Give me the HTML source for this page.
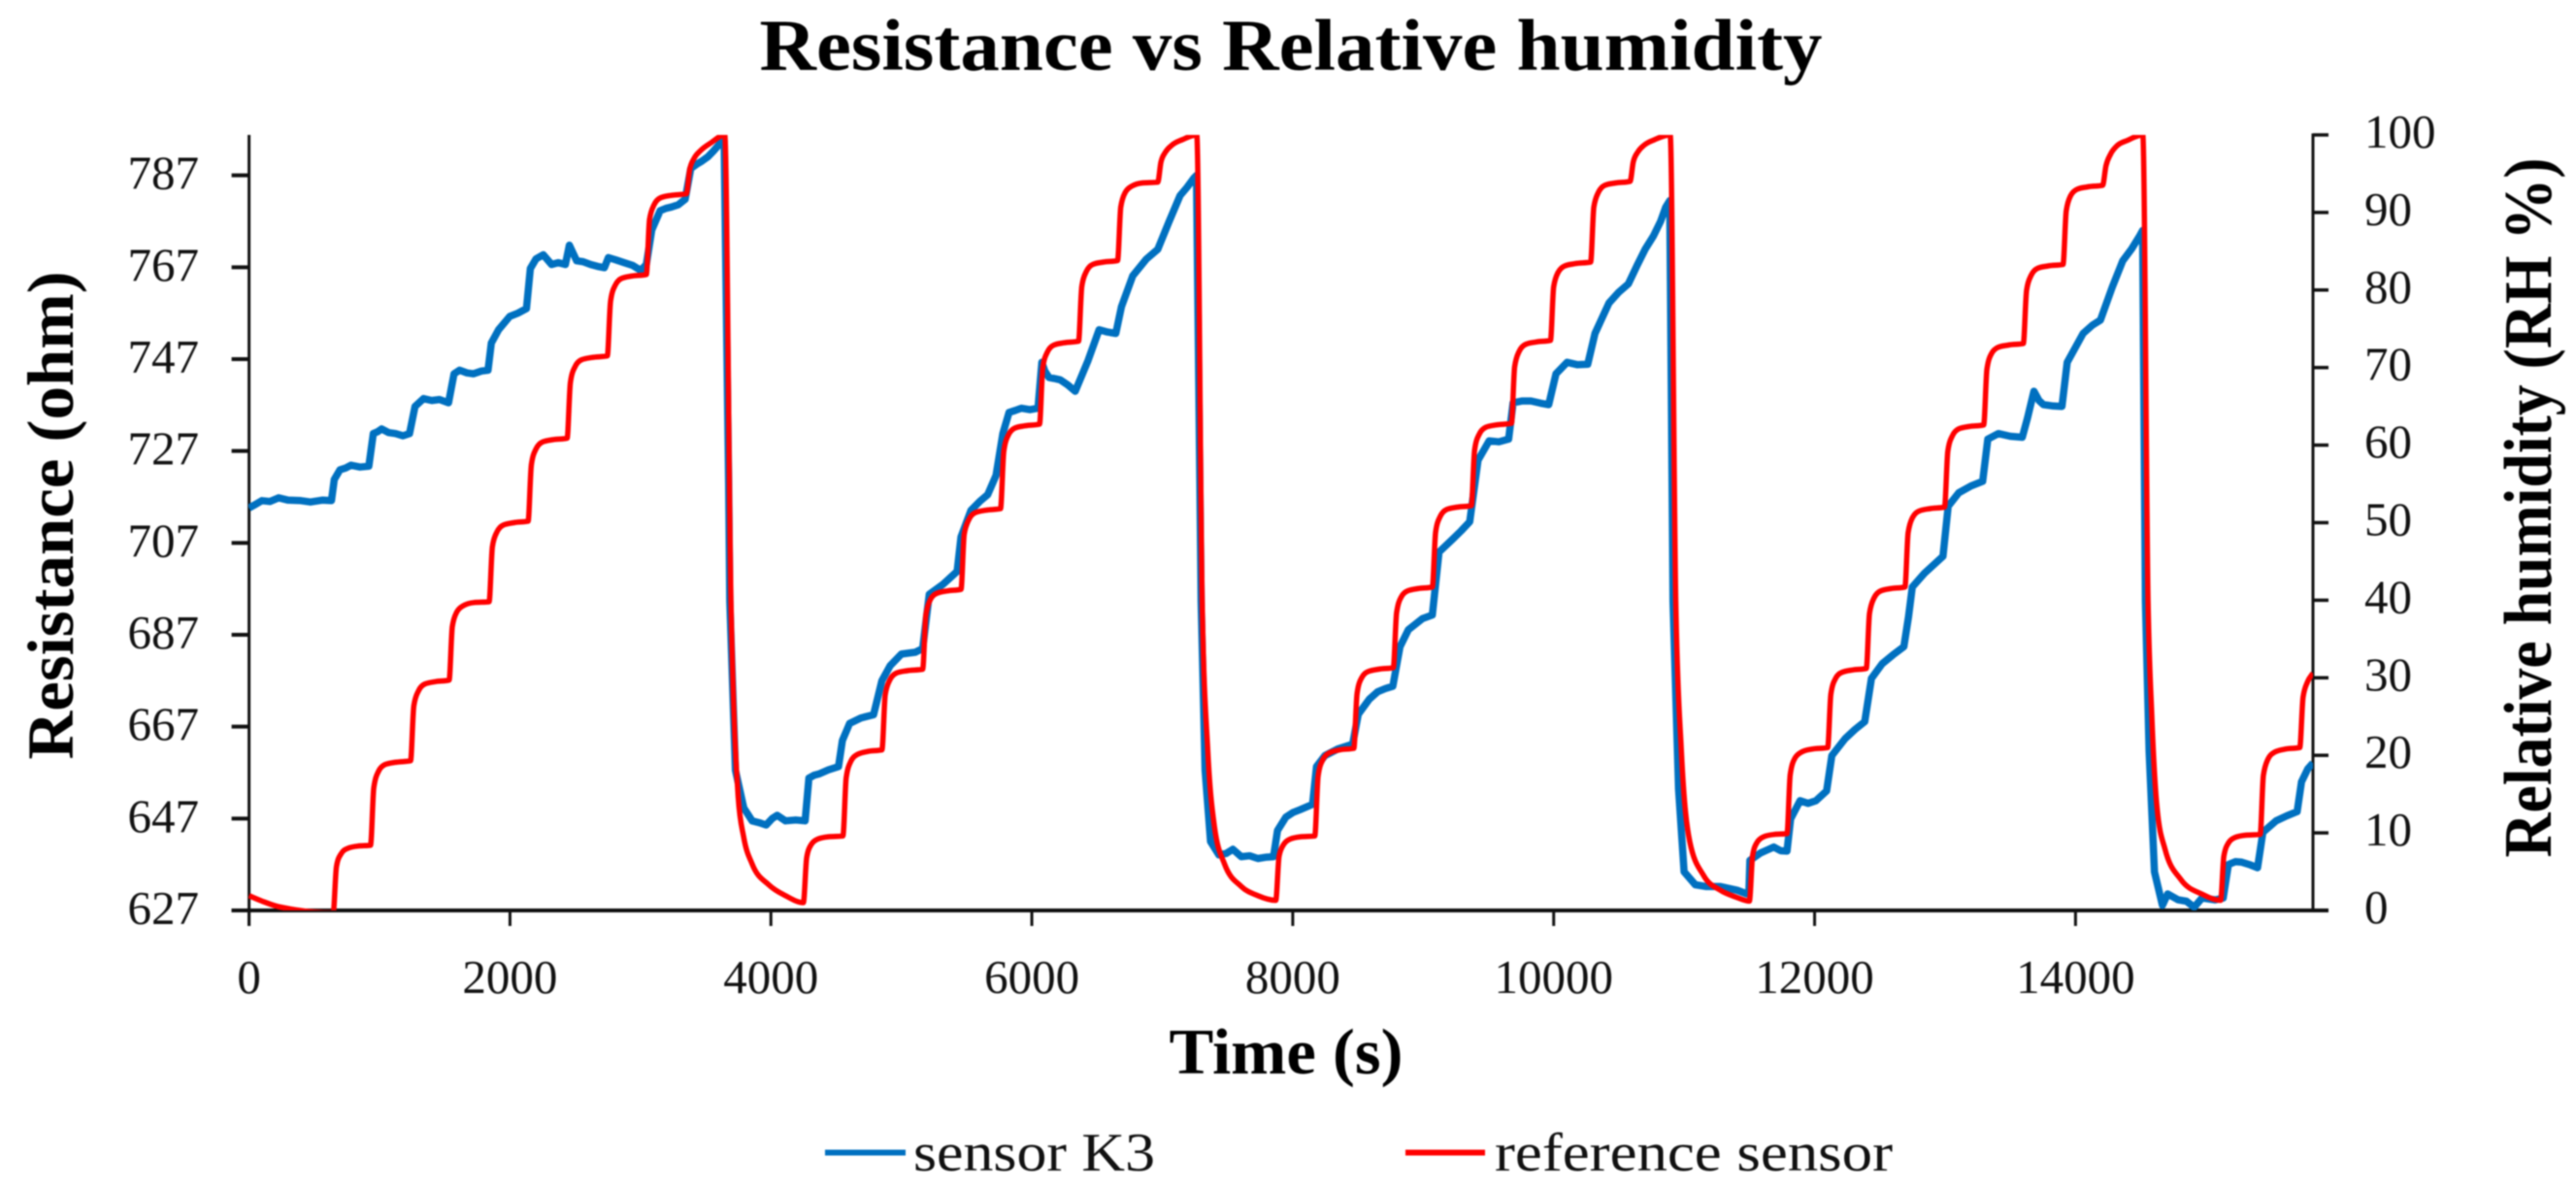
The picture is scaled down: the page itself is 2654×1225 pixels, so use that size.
<!DOCTYPE html>
<html lang="en">
<head>
<meta charset="utf-8">
<title>Resistance vs Relative humidity</title>
<style>
html,body{margin:0;padding:0;background:#fff;width:2654px;height:1225px;overflow:hidden}
svg{display:block;filter:blur(0.7px)}
text{font-family:"Liberation Serif",serif;fill:#111}
</style>
</head>
<body>
<svg id="chart" xmlns="http://www.w3.org/2000/svg" width="2654" height="1225" viewBox="0 0 2654 1225">
  <defs>
    <clipPath id="plot-clip"><rect x="256" y="139" width="2127" height="799"></rect></clipPath>
  </defs>
  <text x="1330" y="72" text-anchor="middle" font-size="75" font-weight="bold" textLength="1095" lengthAdjust="spacingAndGlyphs" style="fill:#000">Resistance vs Relative humidity</text>
  <text transform="translate(75,531) rotate(-90)" text-anchor="middle" font-size="68" font-weight="bold" textLength="503" lengthAdjust="spacingAndGlyphs" style="fill:#000">Resistance (ohm)</text>
  <text transform="translate(2628,523) rotate(-90)" text-anchor="middle" font-size="70" font-weight="bold" textLength="721" lengthAdjust="spacingAndGlyphs" style="fill:#000">Relative humidity (RH %)</text>
  <text x="1325" y="1106" text-anchor="middle" font-size="67" font-weight="bold" textLength="241" lengthAdjust="spacingAndGlyphs" style="fill:#000">Time (s)</text>
  <g id="axes"></g>
  <g id="series" clip-path="url(#plot-clip)"></g>
  <g>
    <g>
      <line x1="850" y1="1187.5" x2="933" y2="1187.5" stroke="#0070C0" stroke-width="6"></line>
      <text x="941" y="1206" font-size="56" textLength="249" lengthAdjust="spacingAndGlyphs">sensor K3</text>
    </g>
    <g>
      <line x1="1448" y1="1187.5" x2="1530" y2="1187.5" stroke="#FF0000" stroke-width="6"></line>
      <text x="1540" y="1206" font-size="56" textLength="410" lengthAdjust="spacingAndGlyphs">reference sensor</text>
    </g>
  </g>
</svg>
<script>
const xTicks = [0, 2000, 4000, 6000, 8000, 10000, 12000, 14000];
const leftTicks = [627, 647, 667, 687, 707, 727, 747, 767, 787];
const rightTicks = [0, 10, 20, 30, 40, 50, 60, 70, 80, 90, 100];

const k3Time = [
0,50,98,160,226,300,397,470,560,632,653,696,740,781,850,918,952,985,1016,1070,1123,1180,1230,1272,1337,1400,1460,1529,1571,1614,1670,1721,1780,1832,1857,1913,1998,2060,2126,2156,2199,2255,2319,2370,2425,2455,2511,2560,2618,2670,2724,2754,2810,2874,2940,3002,3045,3087,3151,3195,3237,3290,3343,3386,3430,3471,3515,3557,3600,3630,3642,3676,3685,3728,3792,3856,3910,3963,4010,4048,4112,4190,4262,4291,4330,4368,4440,4518,4548,4603,4689,4787,4851,4915,5000,5055,5107,5163,5214,5320,5427,5457,5534,5600,5662,5726,5778,5825,5870,5919,5985,6047,6077,6100,6132,6170,6217,6275,6333,6431,6516,6580,6644,6687,6773,6879,6965,7050,7136,7190,7242,7262,7298,7328,7370,7434,7490,7541,7605,7670,7733,7800,7853,7883,7947,8000,8054,8152,8182,8246,8350,8459,8502,8587,8651,8710,8767,8822,8886,8993,9070,9121,9228,9290,9356,9420,9505,9580,9655,9689,9760,9826,9900,9962,10018,10103,10180,10261,10317,10424,10500,10573,10640,10701,10765,10820,10859,10890,10915,10957,11000,11085,11171,11278,11406,11482,11496,11504,11585,11640,11687,11740,11788,11816,11889,11950,12011,12092,12132,12234,12310,12384,12436,12518,12600,12684,12720,12749,12842,12984,13024,13105,13200,13288,13328,13409,13500,13592,13632,13681,13720,13754,13830,13896,13936,14058,14130,14191,14281,14362,14430,14491,14514,14536,14564,14605,14666,14706,14787,14850,14909,14970,15071,15132,15172,15225,15274,15340,15395,15436,15537,15620,15699,15732,15780,15820
];
const k3Ohm = [
714.6,715.4,716.2,716.0,716.8,716.3,716.2,715.9,716.3,716.2,720.8,722.9,723.3,723.9,723.5,723.7,730.8,731.2,731.8,731.0,730.8,730.3,730.8,736.7,738.4,738.0,738.2,737.5,743.8,744.6,744.0,743.8,744.4,744.6,750.5,753.4,756.3,757.0,758,766.7,768.8,769.7,767.6,768.0,767.6,771.8,768.4,768.2,767.6,767.2,766.9,769.1,768.6,768,767.4,766.3,767.6,775.1,779.3,779.8,780.1,780.6,781.8,788.5,789.4,790.1,791.0,792.2,793.6,795.3,794.3,720,694.2,657.5,649.3,646.5,646.1,645.6,647.0,647.7,646.5,646.7,646.5,655.8,656.4,656.7,657.6,658.3,664,667.7,668.9,669.6,677,680.3,682.8,683.0,683.2,684,695.8,698,700.8,708.3,714.1,716,717.5,721.7,730.8,735.4,735.8,736.3,736.0,736.3,746.3,744.4,743,742.8,742.5,741.4,740,746.7,753.4,752.9,752.6,758.4,765.1,768.8,770.9,776.8,782.6,784.4,786.4,787,694.2,657.5,642,639.1,639.4,640.3,638.7,638.9,638.3,638.6,638.7,644.4,647.3,648.3,648.9,650.1,658.3,660.7,662.2,663.2,669.7,673,674.6,675.3,675.8,684.4,688.1,690.5,691.3,705,707.9,709.6,711.6,725,729.2,729.0,729.6,737.5,737.9,737.9,737.4,737.1,743.8,746.3,745.8,745.9,752.6,759.2,761.6,763.4,767.4,770.9,773.8,777.0,780.1,781.5,694.2,653.4,635.4,632.6,632.2,632.2,631.4,630.6,630.6,637.9,639.5,640.2,640.8,640.0,639.9,646.9,650.9,650.3,650.9,653,660.7,664.4,666.4,668.1,677.5,680.7,682.6,684.4,690.9,697.4,700.4,704.1,715,717.9,719.4,720.4,729.6,730.8,730.2,730,734.2,740,738.0,737.1,736.8,736.7,746.3,752.6,754.4,755.5,762.6,768.4,771.0,773.8,775,694.2,661.6,635.4,628.1,630.6,629.3,629.0,627.7,629.7,629.3,629.7,637,637.6,637.5,636.9,636.3,644,646.5,647.6,648.5,655,657.8,659.1
];

const refTime = [
0,100,200,350,500,640,645,670,705,755,835,931,956,991,1041,1121,1238,1263,1298,1348,1428,1533,1558,1593,1643,1723,1840,1865,1900,1950,2030,2139,2164,2199,2249,2329,2438,2463,2498,2548,2628,2746,2771,2806,2856,2936,3045,3070,3105,3155,3235,3352,3377,3412,3462,3542,3646,3694,3720,3749,3792,3856,3984,4112,4249,
4274,4309,4359,4439,4552,4577,4612,4662,4742,4851,4876,4911,4961,5041,5163,5188,5223,5273,5353,5457,5482,5517,5567,5647,5760,5785,5820,5870,5950,6059,6084,6119,6169,6249,6358,6383,6418,6468,6548,6657,6682,6717,6767,6847,6965,6990,7025,7075,7155,7264,7306,7349,7400,7477,7605,7733,7870,
7895,7930,7980,8060,8169,8194,8229,8279,8359,8468,8493,8528,8578,8658,8771,8796,8831,8881,8961,9070,9095,9130,9180,9260,9369,9394,9429,9479,9559,9676,9701,9736,9786,9866,9975,10000,10035,10085,10165,10283,10308,10343,10393,10473,10585,10610,10645,10695,10775,10893,10936,10979,11043,11149,11278,11400,11500,
11525,11560,11610,11690,11788,11813,11848,11898,11978,12100,12125,12160,12210,12290,12396,12421,12456,12506,12586,12692,12717,12752,12802,12882,12996,13021,13056,13106,13186,13296,13321,13356,13406,13486,13600,13625,13660,13710,13790,13904,13929,13964,14014,14094,14208,14233,14268,14318,14398,14516,14556,14584,14625,14686,14807,14970,15112,
15137,15172,15222,15302,15415,15440,15475,15525,15605,15719,15744,15779,15820
];
const refRH = [
1.9,1.2,0.6,0.1,-0.2,-0.3,-0.3,5.7,7.3,8.0,8.3,8.4,15.8,17.9,18.8,19.1,19.3,26.4,28.3,29.2,29.5,29.7,36.6,38.5,39.3,39.7,39.8,46.9,48.8,49.7,50.0,50.2,57.5,59.5,60.4,60.7,60.9,68.1,70.1,71.0,71.3,71.5,78.6,80.6,81.5,81.8,82.0,89.1,91.0,91.9,92.2,92.4,95.5,97.0,98.0,99.0,100,39.8,24,14.7,9.4,6.0,3.3,1.9,1.0,
6.8,8.5,9.2,9.5,9.6,17.1,19.2,20.1,20.5,20.7,27.8,29.7,30.6,30.9,31.1,38.1,40.1,40.9,41.2,41.4,48.5,50.4,51.3,51.6,51.8,59.2,61.3,62.2,62.5,62.7,70.0,72.0,72.9,73.2,73.4,80.5,82.4,83.3,83.6,83.8,90.7,92.6,93.4,93.8,93.9,96.5,97.8,98.7,99.4,100,39.8,20.5,10.8,6.0,3.1,1.9,1.3,
7.0,8.5,9.2,9.5,9.6,17.3,19.4,20.3,20.7,20.9,28.0,30.0,30.8,31.1,31.3,38.4,40.4,41.2,41.5,41.7,48.8,50.8,51.7,52.0,52.2,59.4,61.4,62.3,62.6,62.8,70.1,72.1,73.0,73.3,73.5,80.4,82.3,83.1,83.4,83.6,90.7,92.6,93.5,93.8,94.0,96.5,97.8,98.7,99.4,100,39.8,20.5,8.9,4.5,2.6,1.7,1.2,
7.1,8.8,9.5,9.8,9.9,17.5,19.6,20.4,20.8,21.0,27.9,29.9,30.7,31.0,31.2,38.3,40.3,41.2,41.5,41.7,48.7,50.7,51.5,51.8,52.0,59.2,61.2,62.1,62.4,62.6,69.8,71.8,72.6,72.9,73.1,80.0,81.9,82.8,83.1,83.3,90.2,92.2,93.0,93.3,93.5,96.0,97.5,98.6,99.3,100,39.8,25.3,13.2,7.9,4.0,2.1,1.3,
7.0,8.7,9.4,9.7,9.8,17.4,19.5,20.4,20.8,21.0,27.5,29.5,30.6
];

const SVG_NS = 'http://www.w3.org/2000/svg';
const plotLeft = 256.6, plotRight = 2383, plotTop = 139, plotBottom = 938;
const xMin = 0, xMax = 15820;
const leftMin = 627, leftMax = 795.8;
const rightMin = 0, rightMax = 100;

function xScale(t) { return plotLeft + (t - xMin) / (xMax - xMin) * (plotRight - plotLeft); }
function yLeft(r) { return plotBottom - (r - leftMin) / (leftMax - leftMin) * (plotBottom - plotTop); }
function yRight(h) { return plotBottom - (h - rightMin) / (rightMax - rightMin) * (plotBottom - plotTop); }

function make(tag, attrs) {
  const el = document.createElementNS(SVG_NS, tag);
  for (const k in attrs) el.setAttribute(k, attrs[k]);
  return el;
}

const axesGroup = document.getElementById('axes');
const seriesGroup = document.getElementById('series');

const leftAxis = make('line', { x1: plotLeft, y1: plotTop, x2: plotLeft, y2: plotBottom + 16, stroke: '#111', 'stroke-width': 3 });


axesGroup.appendChild(leftAxis);

const rightAxis = make('line', { x1: plotRight, y1: plotTop - 1.5, x2: plotRight, y2: plotBottom, stroke: '#111', 'stroke-width': 3 });


axesGroup.appendChild(rightAxis);

const bottomAxis = make('line', { x1: plotLeft - 18, y1: plotBottom, x2: plotRight + 16, y2: plotBottom, stroke: '#111', 'stroke-width': 4 });


axesGroup.appendChild(bottomAxis);

xTicks.forEach(function (v) {
  const px = xScale(v);
  const mark = make('line', { x1: px, y1: plotBottom, x2: px, y2: plotBottom + 16, stroke: '#111', 'stroke-width': 3 });
  
  
  axesGroup.appendChild(mark);
  const label = make('text', { x: px, y: 1023, 'text-anchor': 'middle', 'font-size': 49 });
  
  
  label.textContent = v;
  axesGroup.appendChild(label);
});

leftTicks.forEach(function (v) {
  const py = yLeft(v);
  const mark = make('line', { x1: plotLeft - 18, y1: py, x2: plotLeft, y2: py, stroke: '#111', 'stroke-width': 4 });
  
  
  axesGroup.appendChild(mark);
  const label = make('text', { x: 205, y: py + 14, 'text-anchor': 'end', 'font-size': 49 });
  
  
  label.textContent = v;
  axesGroup.appendChild(label);
});

rightTicks.forEach(function (v) {
  const py = yRight(v);
  const mark = make('line', { x1: plotRight, y1: py, x2: plotRight + 16, y2: py, stroke: '#111', 'stroke-width': 3.5 });
  
  
  axesGroup.appendChild(mark);
  const label = make('text', { x: 2436, y: py + 13, 'text-anchor': 'start', 'font-size': 49 });
  
  
  label.textContent = v;
  axesGroup.appendChild(label);
});

function linearPath(times, values, yFn) {
  let d = '';
  for (let i = 0; i < times.length; i++) {
    d += (i ? 'L' : 'M') + xScale(times[i]).toFixed(1) + ' ' + yFn(values[i]).toFixed(1);
  }
  return d;
}

function monotonePath(times, values, yFn) {
  const xs = times.map(xScale);
  const ys = values.map(yFn);
  const n = xs.length;
  const sec = [];
  for (let i = 0; i < n - 1; i++) sec.push((ys[i + 1] - ys[i]) / (xs[i + 1] - xs[i]));
  const m = [sec[0]];
  for (let i = 1; i < n - 1; i++) {
    if (sec[i - 1] * sec[i] <= 0) { m.push(0); continue; }
    const h0 = xs[i] - xs[i - 1], h1 = xs[i + 1] - xs[i];
    const p = (sec[i - 1] * h1 + sec[i] * h0) / (h0 + h1);
    const lim = 2 * Math.min(Math.abs(sec[i - 1]), Math.abs(sec[i]));
    m.push(Math.sign(sec[i]) * Math.min(lim, Math.abs(p)));
  }
  m.push(sec[n - 2]);
  let d = 'M' + xs[0].toFixed(1) + ' ' + ys[0].toFixed(1);
  for (let i = 0; i < n - 1; i++) {
    const h = (xs[i + 1] - xs[i]) / 3;
    d += 'C' + (xs[i] + h).toFixed(1) + ' ' + (ys[i] + m[i] * h).toFixed(1) + ' ' +
         (xs[i + 1] - h).toFixed(1) + ' ' + (ys[i + 1] - m[i + 1] * h).toFixed(1) + ' ' +
         xs[i + 1].toFixed(1) + ' ' + ys[i + 1].toFixed(1);
  }
  return d;
}

const k3Line = make('path', { d: linearPath(k3Time, k3Ohm, yLeft), fill: 'none', stroke: '#0070C0', 'stroke-width': 7.5, 'stroke-linejoin': 'round' });


seriesGroup.appendChild(k3Line);

const refLine = make('path', { d: monotonePath(refTime, refRH, yRight), fill: 'none', stroke: '#FF0000', 'stroke-width': 5.5, 'stroke-linejoin': 'round' });


seriesGroup.appendChild(refLine);
</script>
</body>
</html>
